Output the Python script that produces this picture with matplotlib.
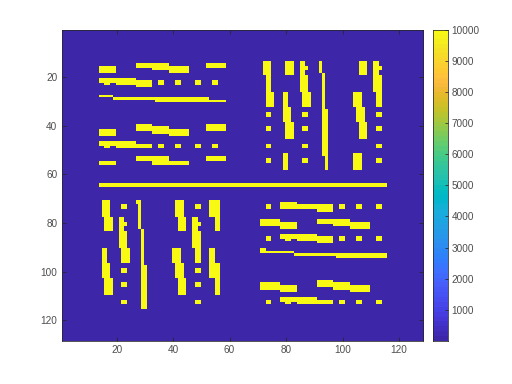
import numpy as np
import matplotlib
matplotlib.use("Agg")
import matplotlib.pyplot as plt
from matplotlib.colors import ListedColormap

plt.rcParams['font.family'] = ['Liberation Sans', 'DejaVu Sans']

size = 128
low_value = 1
high_value = 10000

x_ticks = [20, 40, 60, 80, 100, 120]
y_ticks = [20, 40, 60, 80, 100, 120]
cbar_ticks = [1000, 2000, 3000, 4000, 5000, 6000, 7000, 8000, 9000, 10000]

# high valued blocks of the matrix: first row, last row, first col, last col
center_line = [(64, 65, 14, 115)]

top_left = [
    (16, 18, 14, 19), (15, 16, 27, 38), (17, 17, 33, 38), (16, 18, 39, 45), (15, 16, 52, 58),
    (21, 22, 14, 26), (23, 23, 16, 17), (23, 23, 20, 26), (22, 24, 27, 32),
    (22, 23, 35, 36), (22, 23, 41, 42), (22, 23, 48, 49), (22, 23, 54, 55),
    (28, 28, 14, 18), (29, 29, 19, 33), (29, 30, 34, 52), (30, 30, 53, 58),
    (40, 42, 27, 32), (41, 43, 33, 38), (42, 44, 39, 45), (42, 44, 14, 19), (40, 42, 52, 58),
    (47, 48, 14, 26), (49, 49, 16, 17), (48, 49, 20, 32),
    (48, 49, 35, 36), (48, 49, 41, 42), (48, 49, 48, 49), (48, 49, 54, 55),
    (53, 54, 27, 38), (55, 56, 33, 45), (55, 56, 14, 19), (53, 54, 52, 58),
]

top_right = [
    (14, 19, 72, 74), (20, 26, 73, 74), (27, 32, 73, 75),
    (35, 36, 73, 74), (41, 42, 73, 74), (48, 49, 73, 74), (54, 55, 73, 74),
    (14, 19, 80, 82), (27, 32, 79, 80), (33, 38, 79, 81), (39, 45, 80, 82), (52, 58, 79, 80),
    (14, 15, 85, 86), (16, 17, 85, 87), (18, 19, 85, 86), (20, 26, 85, 87), (27, 32, 86, 88),
    (35, 36, 86, 87), (41, 42, 86, 87), (48, 49, 86, 87), (54, 55, 86, 87),
    (14, 18, 92, 92), (19, 33, 93, 93), (34, 52, 93, 94), (53, 58, 94, 94),
    (14, 19, 106, 108), (27, 32, 104, 106), (33, 38, 105, 107), (39, 45, 106, 108), (52, 58, 104, 106),
    (14, 15, 111, 112), (16, 17, 111, 113), (18, 19, 111, 112), (20, 26, 111, 113), (27, 32, 112, 113),
    (35, 36, 112, 113), (41, 42, 112, 113), (48, 49, 112, 113), (54, 55, 112, 113),
]

bottom_left = [
    (71, 77, 15, 17), (78, 83, 16, 18), (91, 96, 15, 16), (97, 102, 15, 17), (103, 109, 16, 18),
    (73, 74, 22, 23), (78, 79, 21, 22), (80, 81, 21, 23), (82, 83, 21, 22), (84, 90, 21, 23), (91, 96, 22, 24),
    (99, 100, 22, 23), (105, 106, 22, 23), (112, 113, 22, 23),
    (71, 72, 27, 28), (73, 82, 28, 28), (83, 97, 29, 29), (98, 115, 29, 30),
    (71, 77, 41, 43), (78, 83, 42, 44), (91, 96, 40, 42), (97, 102, 41, 43), (103, 109, 42, 44),
    (73, 74, 48, 49), (78, 79, 47, 48), (80, 81, 47, 49), (82, 83, 47, 48), (84, 90, 47, 49), (91, 96, 48, 49),
    (99, 100, 48, 49), (105, 106, 48, 49), (112, 113, 48, 49),
    (71, 77, 53, 56), (78, 83, 55, 56), (91, 96, 53, 54), (97, 102, 53, 56), (103, 109, 55, 56),
]

bottom_right = [
    (73, 74, 73, 74), (73, 74, 99, 100), (73, 74, 105, 106), (73, 74, 112, 113),
    (72, 74, 78, 83), (73, 74, 84, 90), (73, 75, 91, 96),
    (79, 81, 71, 77), (80, 82, 78, 83), (79, 80, 91, 96), (79, 81, 97, 102), (80, 82, 103, 109),
    (86, 87, 73, 74), (86, 87, 99, 100), (86, 87, 105, 106), (86, 87, 112, 113),
    (85, 86, 78, 90), (87, 87, 80, 81), (86, 87, 84, 90), (86, 88, 91, 96),
    (91, 92, 71, 72), (92, 92, 73, 82), (93, 93, 83, 97), (93, 94, 98, 115),
    (105, 107, 71, 77), (106, 108, 78, 83), (104, 106, 91, 96), (105, 107, 97, 102), (106, 108, 103, 109),
    (112, 113, 73, 74), (112, 113, 99, 100), (112, 113, 105, 106), (112, 113, 112, 113),
    (111, 112, 78, 90), (113, 113, 80, 81), (112, 113, 84, 96),
]

# parula, 64 levels
parula = [
    [0.2422, 0.1504, 0.6603], [0.2504, 0.1650, 0.7076], [0.2578, 0.1818, 0.7511], [0.2647, 0.1978, 0.7952],
    [0.2706, 0.2147, 0.8364], [0.2751, 0.2342, 0.8710], [0.2783, 0.2559, 0.8991], [0.2803, 0.2782, 0.9221],
    [0.2813, 0.3006, 0.9414], [0.2810, 0.3228, 0.9579], [0.2795, 0.3447, 0.9717], [0.2760, 0.3667, 0.9829],
    [0.2699, 0.3892, 0.9906], [0.2602, 0.4123, 0.9952], [0.2440, 0.4358, 0.9988], [0.2206, 0.4603, 0.9973],
    [0.1963, 0.4847, 0.9892], [0.1834, 0.5074, 0.9798], [0.1786, 0.5289, 0.9682], [0.1764, 0.5499, 0.9520],
    [0.1687, 0.5703, 0.9359], [0.1540, 0.5902, 0.9218], [0.1460, 0.6091, 0.9079], [0.1380, 0.6276, 0.8973],
    [0.1248, 0.6459, 0.8883], [0.1113, 0.6635, 0.8763], [0.0952, 0.6798, 0.8598], [0.0689, 0.6948, 0.8394],
    [0.0297, 0.7082, 0.8163], [0.0036, 0.7203, 0.7917], [0.0067, 0.7312, 0.7660], [0.0433, 0.7411, 0.7394],
    [0.0964, 0.7500, 0.7120], [0.1408, 0.7584, 0.6842], [0.1717, 0.7670, 0.6554], [0.1938, 0.7758, 0.6251],
    [0.2161, 0.7843, 0.5923], [0.2470, 0.7918, 0.5567], [0.2906, 0.7973, 0.5188], [0.3406, 0.8008, 0.4789],
    [0.3909, 0.8029, 0.4354], [0.4456, 0.8024, 0.3909], [0.5044, 0.7993, 0.3480], [0.5616, 0.7942, 0.3045],
    [0.6174, 0.7876, 0.2612], [0.6720, 0.7793, 0.2227], [0.7242, 0.7698, 0.1910], [0.7738, 0.7598, 0.1646],
    [0.8203, 0.7498, 0.1535], [0.8634, 0.7406, 0.1596], [0.9035, 0.7330, 0.1774], [0.9393, 0.7288, 0.2100],
    [0.9728, 0.7298, 0.2394], [0.9956, 0.7434, 0.2371], [0.9970, 0.7659, 0.2199], [0.9952, 0.7893, 0.2028],
    [0.9892, 0.8136, 0.1885], [0.9786, 0.8386, 0.1766], [0.9676, 0.8639, 0.1643], [0.9610, 0.8890, 0.1537],
    [0.9597, 0.9135, 0.1423], [0.9628, 0.9373, 0.1265], [0.9691, 0.9606, 0.1064], [0.9769, 0.9839, 0.0805],
]

matrix = np.full((size, size), low_value, dtype=float)
for r0, r1, c0, c1 in center_line + top_left + top_right + bottom_left + bottom_right:
    matrix[r0 - 1:r1, c0 - 1:c1] = high_value

W, H = 512, 384
fig = plt.figure(figsize=(W / 100, H / 100), dpi=100, facecolor='white')
ax = fig.add_axes([61.5 / W, 1 - 341 / H, 361.5 / W, 311.5 / H])
cax = fig.add_axes([432.5 / W, 1 - 341 / H, 15 / W, 311.5 / H])

dark = '#262626'
cmap = ListedColormap(parula)
im = ax.imshow(matrix, cmap=cmap, vmin=low_value, vmax=high_value,
               extent=[0.5, size + 0.5, size + 0.5, 0.5], aspect='auto', interpolation='nearest')
ax.set_xticks(x_ticks)
ax.set_yticks(y_ticks)
ax.tick_params(direction='in', length=3.0, width=0.55, color=dark, labelcolor='#4d4d4d',
               labelsize=7.2, top=True, right=True, pad=3)
for s in ax.spines.values():
    s.set_linewidth(0.55)
    s.set_color(dark)

# colorbar strip as an image, row 0 is the top colour
levels = np.arange(len(parula))[::-1].reshape(-1, 1)
cax.imshow(levels, cmap=cmap, vmin=0, vmax=len(parula) - 1, aspect='auto',
           extent=[0, 1, low_value, high_value], interpolation='nearest')
cax.set_xticks([])
cax.yaxis.tick_right()
cax.set_yticks(cbar_ticks)
cax.tick_params(direction='in', length=2.5, width=0.55, color=dark, labelcolor='#4d4d4d',
                labelsize=7.2, pad=3)
for s in cax.spines.values():
    s.set_linewidth(0.55)
    s.set_color(dark)

fig.savefig('out.png', dpi=100)
